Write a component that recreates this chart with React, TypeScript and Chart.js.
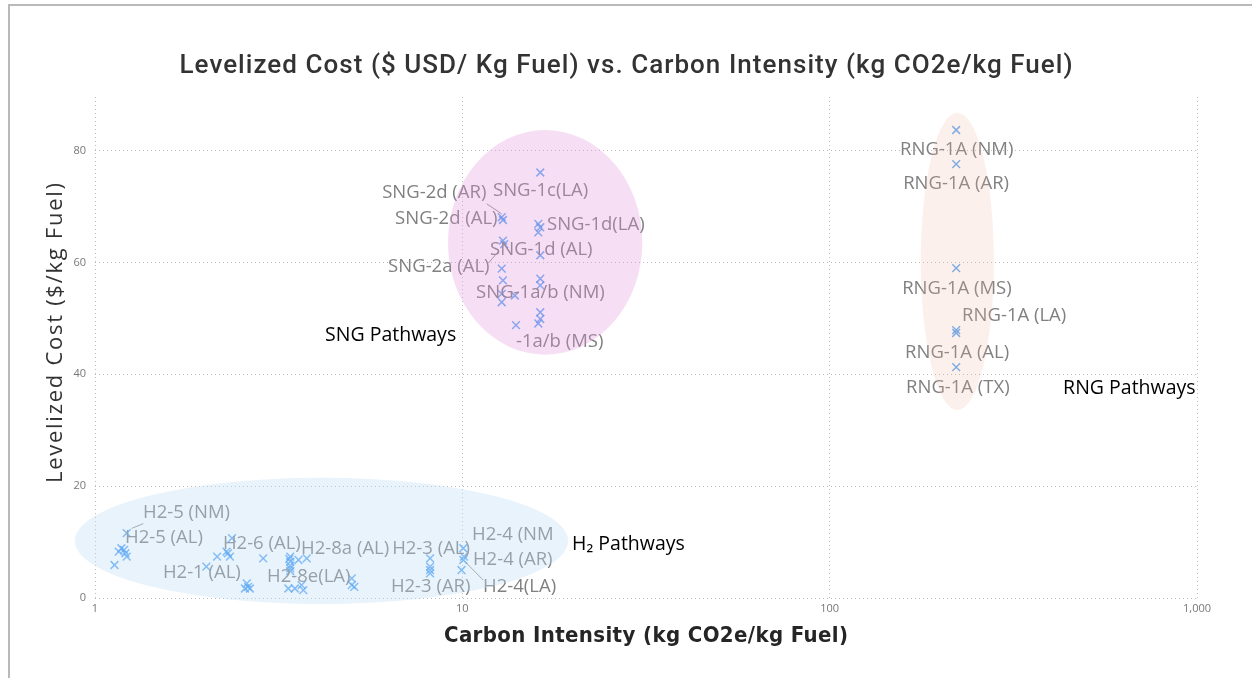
import React, { useEffect, useRef } from "react";
import { Chart, registerables } from "chart.js";

Chart.register(...registerables);

// ---------- DATA ----------
const h2CarbonIntensity = [
  1.13, 1.16, 1.18, 1.21, 1.22, 1.22, 1.2,
  2.01, 2.15, 2.28, 2.33, 2.36, 2.3, 2.87, 2.59, 2.61, 2.56, 2.64,
  3.4, 3.4, 3.4, 3.4, 3.4, 3.38, 3.58, 3.77, 3.36, 3.5, 3.65, 3.69,
  5.0, 5.0, 5.08,
  8.17, 8.17, 8.17, 8.17,
  10.06, 10.06, 9.95, 10.1,
];
const h2Cost = [
  5.9, 8.3, 8.9, 8.0, 7.4, 11.6, 8.6,
  5.6, 7.4, 8.3, 7.4, 10.7, 8.0, 7.1, 2.6, 2.0, 1.7, 1.7,
  7.4, 6.5, 5.8, 5.3, 4.8, 7.0, 6.8, 7.1, 1.7, 1.7, 2.3, 1.4,
  3.5, 2.3, 2.0,
  7.1, 5.6, 5.0, 4.4,
  8.9, 6.8, 5.0, 7.4,
];
const sngCarbonIntensity = [
  16.3, 12.8, 12.9, 16.1, 16.3, 16.1, 12.9, 13.0, 16.3, 12.8,
  12.9, 16.3, 16.3, 12.8, 12.8, 13.9, 16.3, 16.3, 16.1, 14.0,
];
const sngCost = [
  76.1, 68.1, 67.6, 66.9, 66.3, 65.4, 63.9, 63.3, 61.3, 58.9,
  56.8, 57.1, 55.9, 54.4, 52.9, 54.1, 51.1, 49.9, 49.1, 48.8,
];
const rngCarbonIntensity = [221, 221, 221, 221, 221, 221];
const rngCost = [83.7, 77.6, 59.0, 47.9, 47.4, 41.3];

const xTickValues = [1, 10, 100, 1000];
const xTickLabels = ["1", "10", "100", "1,000"];
const yTickValues = [0, 20, 40, 60, 80];

const chartTitle = "Levelized Cost ($ USD/ Kg Fuel) vs. Carbon Intensity (kg CO2e/kg Fuel)";
const xAxisTitle = "Carbon Intensity (kg CO2e/kg Fuel)";
const yAxisTitle = "Levelized Cost ($/kg Fuel)";

// point label texts and their anchors (data space, left edge / middle)
const labelTexts = [
  "H2-5 (NM)", "H2-5 (AL)", "H2-1 (AL)", "H2-6 (AL)", "H2-8a (AL)", "H2-8e(LA)",
  "H2-3 (AL)", "H2-3 (AR)", "H2-4 (NM", "H2-4 (AR)", "H2-4(LA)",
  "SNG-2d (AR)", "SNG-1c(LA)", "SNG-2d (AL)", "SNG-1d(LA)", "SNG-1d (AL)",
  "SNG-2a (AL)", "SNG-1a/b (NM)", "-1a/b (MS)",
  "RNG-1A (NM)", "RNG-1A (AR)", "RNG-1A (MS)", "RNG-1A (LA)", "RNG-1A (AL)", "RNG-1A (TX)",
];
const labelX = [
  1.351, 1.207, 1.531, 2.23, 3.64, 2.94,
  6.44, 6.39, 10.63, 10.69, 11.39,
  6.05, 12.12, 6.56, 17.0, 11.9,
  6.28, 10.9, 14.0,
  155.5, 158.5, 157.5, 229.4, 160.4, 161.4,
];
const labelY = [
  15.2, 10.7, 4.5, 9.7, 8.9, 3.8,
  8.8, 2.1, 11.4, 6.8, 2.1,
  72.5, 72.8, 67.8, 66.7, 62.3,
  59.2, 54.6, 45.8,
  80.1, 74.1, 55.3, 50.4, 43.8, 37.6,
];

// leader lines [x1, y1, x2, y2] in data space
const leaderLines = [
  [1.259, 12.45, 1.354, 13.3],
  [10.17, 6.5, 11.4, 3.2],
  [11.65, 70.5, 12.8, 68.7],
  [11.77, 59.9, 12.53, 61.95],
];

// group ellipses: bounding box in data space [xMin, xMax, yMin, yMax]
const ellipseBoxes = [
  [0.882, 19.4, -1.07, 21.5],
  [9.14, 30.9, 43.5, 83.7],
  [177, 280, 33.6, 86.8],
];
const ellipseColors = [
  "rgba(190,222,245,0.35)",
  "rgba(225,150,220,0.30)",
  "rgba(240,180,160,0.20)",
];

const groupTexts = ["SNG Pathways", "RNG Pathways", "H\u2082 Pathways"];
const groupX = [4.23, 432, 19.9];
const groupY = [47.0, 37.4, 9.5];

// ---------- DRAW HELPERS ----------
function drawFitted(
  ctx: CanvasRenderingContext2D,
  text: string,
  cx: number,
  cy: number,
  targetWidth: number,
  font: string,
  color: string,
  rotate = 0
) {
  ctx.save();
  ctx.font = font;
  ctx.fillStyle = color;
  ctx.textAlign = "left";
  ctx.textBaseline = "middle";
  const w = ctx.measureText(text).width;
  const n = Array.from(text).length;
  ctx.translate(cx, cy);
  if (rotate) ctx.rotate(rotate);
  const anyCtx = ctx as any;
  if ("letterSpacing" in anyCtx) {
    const ls = (targetWidth - w) / Math.max(1, n - 1);
    anyCtx.letterSpacing = ls + "px";
    ctx.fillText(text, -targetWidth / 2, 0);
    anyCtx.letterSpacing = "0px";
  } else {
    ctx.scale(targetWidth / w, 1);
    ctx.fillText(text, -w / 2, 0);
  }
  ctx.restore();
}

const overlayPlugin = {
  id: "overlay",
  afterDraw(chart: any) {
    const ctx: CanvasRenderingContext2D = chart.ctx;
    const xs = chart.scales.x;
    const ys = chart.scales.y;
    ctx.save();

    // leader lines
    ctx.strokeStyle = "rgba(120,120,120,0.8)";
    ctx.lineWidth = 1;
    leaderLines.forEach((l) => {
      ctx.beginPath();
      ctx.moveTo(xs.getPixelForValue(l[0]), ys.getPixelForValue(l[1]));
      ctx.lineTo(xs.getPixelForValue(l[2]), ys.getPixelForValue(l[3]));
      ctx.stroke();
    });

    // point labels
    ctx.font = "18.5px 'Open Sans'";
    ctx.fillStyle = "#808080";
    ctx.textAlign = "left";
    ctx.textBaseline = "middle";
    labelTexts.forEach((t, i) => {
      ctx.fillText(t, xs.getPixelForValue(labelX[i]), ys.getPixelForValue(labelY[i]));
    });

    // ellipses on top, translucent
    ellipseBoxes.forEach((b, i) => {
      const x1 = xs.getPixelForValue(b[0]);
      const x2 = xs.getPixelForValue(b[1]);
      const y1 = ys.getPixelForValue(b[3]);
      const y2 = ys.getPixelForValue(b[2]);
      ctx.beginPath();
      ctx.ellipse((x1 + x2) / 2, (y1 + y2) / 2, (x2 - x1) / 2, (y2 - y1) / 2, 0, 0, Math.PI * 2);
      ctx.fillStyle = ellipseColors[i];
      ctx.fill();
    });

    // group annotations
    ctx.font = "19.5px 'Open Sans'";
    ctx.fillStyle = "#000";
    groupTexts.forEach((t, i) => {
      ctx.fillText(t, xs.getPixelForValue(groupX[i]), ys.getPixelForValue(groupY[i]));
    });
    ctx.restore();

    // titles
    drawFitted(ctx, chartTitle, 626, 66, 893, "500 26px Roboto", "#333");
    drawFitted(ctx, xAxisTitle, 646, 636, 404, "bold 22px 'DejaVu Sans Condensed'", "#252525");
    drawFitted(ctx, yAxisTitle, 56, 333, 300, "22px 'Open Sans'", "#333", -Math.PI / 2);
  },
};

export default function App() {
  const canvasRef = useRef<HTMLCanvasElement | null>(null);

  useEffect(() => {
    if (!canvasRef.current) return;
    const points = [
      ...h2CarbonIntensity.map((x, i) => ({ x, y: h2Cost[i] })),
      ...sngCarbonIntensity.map((x, i) => ({ x, y: sngCost[i] })),
      ...rngCarbonIntensity.map((x, i) => ({ x, y: rngCost[i] })),
    ];
    const chart = new Chart(canvasRef.current, {
      type: "scatter",
      data: {
        datasets: [
          {
            data: points,
            pointStyle: "crossRot",
            pointRadius: 5.5,
            pointBorderWidth: 1.5,
            borderColor: "rgba(45,140,240,0.72)",
            backgroundColor: "rgba(45,140,240,0.72)",
          },
        ],
      },
      options: {
        responsive: false,
        animation: false,
        devicePixelRatio: 1,
        layout: { padding: { left: 0, top: 97, right: 55, bottom: 0 } },
        plugins: {
          legend: { display: false },
          tooltip: { enabled: false },
          title: { display: false },
        },
        scales: {
          x: {
            type: "logarithmic",
            min: 1,
            max: 1000,
            afterBuildTicks: (scale: any) => {
              scale.ticks = xTickValues.map((v) => ({ value: v }));
            },
            afterFit: (scale: any) => {
              scale.height = 80;
            },
            ticks: {
              autoSkip: false,
              maxRotation: 0,
              padding: 4,
              color: "#777",
              font: { family: "'Open Sans'", size: 11 },
              callback: (v: any) => {
                const idx = xTickValues.indexOf(Number(v));
                return idx >= 0 ? xTickLabels[idx] : "";
              },
            },
            grid: {
              color: "#bdbdbd",
              lineWidth: 1,
              drawTicks: false,
            },
            border: { display: false, dash: [1, 3] },
          },
          y: {
            type: "linear",
            min: 0,
            max: 89.6,
            afterBuildTicks: (scale: any) => {
              scale.ticks = yTickValues.map((v) => ({ value: v }));
            },
            afterFit: (scale: any) => {
              scale.width = 95;
            },
            ticks: {
              padding: 9,
              color: "#777",
              font: { family: "'Open Sans'", size: 11 },
            },
            grid: {
              color: "#bdbdbd",
              lineWidth: 1,
              drawTicks: false,
            },
            border: { display: false, dash: [1, 3] },
          },
        },
      },
      plugins: [overlayPlugin],
    } as any);
    return () => chart.destroy();
  }, []);

  return (
    <div
      style={{
        position: "fixed",
        left: 0,
        top: 0,
        width: 1252,
        height: 678,
        background: "#fff",
        overflow: "hidden",
      }}
    >
      <canvas ref={canvasRef} width={1252} height={678} style={{ position: "absolute", left: 0, top: 0 }} />
      <div
        style={{
          position: "absolute",
          left: 8,
          top: 4,
          right: 0,
          bottom: 0,
          borderTop: "2px solid #b9b9b9",
          borderLeft: "2px solid #b9b9b9",
          pointerEvents: "none",
        }}
      />
    </div>
  );
}
